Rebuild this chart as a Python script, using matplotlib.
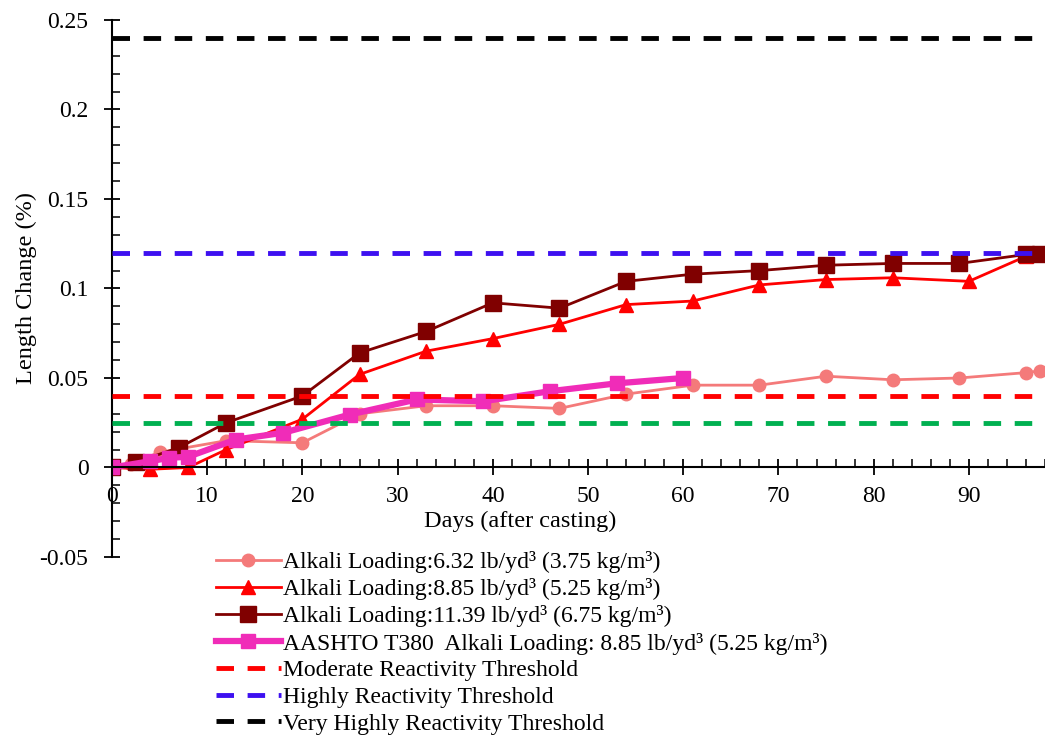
import matplotlib
matplotlib.use("Agg")
import matplotlib.pyplot as plt
from matplotlib.ticker import MultipleLocator, FuncFormatter

plt.rcParams["font.family"] = ["Liberation Serif", "DejaVu Serif"]

# ---- data ----
days_632 = [0, 2, 5, 12, 20, 26, 33, 40, 47, 54, 61, 68, 75, 82, 89, 96, 97.5]
len_632 = [0, 0.002, 0.0085, 0.015, 0.0138, 0.030, 0.0345, 0.0345, 0.033, 0.041,
           0.046, 0.046, 0.051, 0.049, 0.050, 0.053, 0.054]

days_885 = [0, 4, 8, 12, 20, 26, 33, 40, 47, 54, 61, 68, 75, 82, 90, 96, 97.5]
len_885 = [0, -0.001, 0.0, 0.010, 0.027, 0.052, 0.065, 0.072, 0.080, 0.091,
           0.093, 0.102, 0.105, 0.106, 0.104, 0.118, 0.119]

days_1139 = [0, 2.5, 7, 12, 20, 26, 33, 40, 47, 54, 61, 68, 75, 82, 89, 96, 97.5]
len_1139 = [0, 0.003, 0.011, 0.025, 0.040, 0.064, 0.076, 0.092, 0.089, 0.104,
            0.108, 0.110, 0.113, 0.114, 0.114, 0.119, 0.119]

days_t380 = [0, 4, 6, 8, 13, 18, 25, 32, 39, 46, 53, 60]
len_t380 = [0, 0.0035, 0.0054, 0.006, 0.0156, 0.0194, 0.0296, 0.038, 0.037,
            0.0426, 0.047, 0.050]

moderate = 0.04
high = 0.12
very_high = 0.24
low = 0.025

labels = [
    "Alkali Loading:6.32 lb/yd³ (3.75 kg/m³)",
    "Alkali Loading:8.85 lb/yd³ (5.25 kg/m³)",
    "Alkali Loading:11.39 lb/yd³ (6.75 kg/m³)",
    "AASHTO T380  Alkali Loading: 8.85 lb/yd³ (5.25 kg/m³)",
    "Moderate Reactivity Threshold",
    "Highly Reactivity Threshold",
    "Very Highly Reactivity Threshold",
]

FS = 17

fig = plt.figure(figsize=(10.45, 7.36), dpi=100)
ax = fig.add_axes([112 / 1045, 1 - 557 / 736, 1 - 112 / 1045, (557 - 20) / 736])

ax.plot(days_632, len_632, color="#F47A7A", lw=2, marker="o", ms=9, label=labels[0])
ax.plot(days_885, len_885, color="#FF0000", lw=2, marker="^", ms=10, label=labels[1])
ax.plot(days_1139, len_1139, color="#800000", lw=2, marker="s", ms=11, label=labels[2])
ax.plot(days_t380, len_t380, color="#F02CB8", lw=4.5, marker="s", ms=10, label=labels[3])

dash = (3.6, 2.8)
ax.axhline(moderate, color="#FF0000", lw=3.5, dashes=dash, zorder=3, label=labels[4])
ax.axhline(high, color="#3D10F0", lw=3.5, dashes=dash, zorder=3, label=labels[5])
ax.axhline(very_high, color="#000000", lw=3.5, dashes=dash, zorder=3, label=labels[6])
ax.axhline(low, color="#00B050", lw=3.5, dashes=dash, zorder=3, label="_nolegend_")

ax.set_xlim(0, 98)
ax.set_ylim(-0.05, 0.25)

ax.spines["top"].set_visible(False)
ax.spines["right"].set_visible(False)
ax.spines["bottom"].set_position(("data", 0))
for s in ("left", "bottom"):
    ax.spines[s].set_linewidth(1.5)

ax.xaxis.set_major_locator(MultipleLocator(10))
ax.xaxis.set_minor_locator(MultipleLocator(2))
ax.yaxis.set_major_locator(MultipleLocator(0.05))
ax.yaxis.set_minor_locator(MultipleLocator(0.01))
ax.yaxis.set_major_formatter(FuncFormatter(lambda v, p: "%g" % round(v, 3)))
ax.xaxis.set_major_formatter(FuncFormatter(lambda v, p: "%g" % v))
ax.tick_params(which="major", direction="inout", length=12, width=1.3, labelsize=FS)
ax.tick_params(axis="y", which="major", pad=11)
ax.tick_params(axis="x", which="major", pad=7)
ax.tick_params(which="minor", direction="in", length=6, width=1.1)

ax.set_xlabel("Days (after casting)", fontsize=FS + 0.5)
ax.xaxis.set_label_coords(0.438, (557 - 527) / 537)
ax.xaxis.label.set_verticalalignment("baseline")
ax.set_ylabel("Length Change (%)", fontsize=FS + 0.5)
ax.yaxis.set_label_coords(-0.08, 0.5)

ax.legend(loc="upper left", bbox_to_anchor=(216 / 1045, 1 - 551 / 736),
          bbox_transform=fig.transFigure, frameon=False, fontsize=FS,
          handlelength=2.75, handletextpad=0.1, labelspacing=0.22, borderpad=0,
          borderaxespad=0)

fig.savefig("out.png", dpi=100)
